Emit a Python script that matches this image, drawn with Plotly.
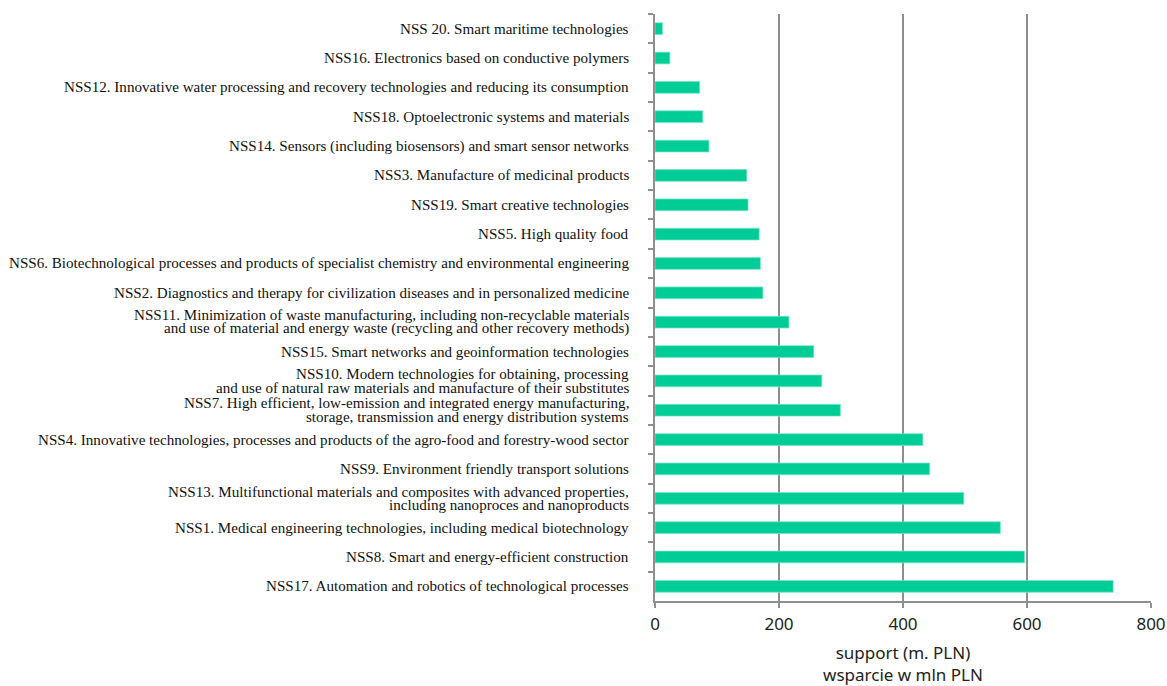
import plotly.graph_objects as go

categories = [
    "NSS 20. Smart maritime technologies",
    "NSS16. Electronics based on conductive polymers",
    "NSS12. Innovative water processing and recovery technologies and reducing its consumption",
    "NSS18. Optoelectronic systems and materials",
    "NSS14. Sensors (including biosensors) and smart sensor networks",
    "NSS3. Manufacture of medicinal products",
    "NSS19. Smart creative technologies",
    "NSS5. High quality food",
    "NSS6. Biotechnological processes and products of specialist chemistry and environmental engineering",
    "NSS2. Diagnostics and therapy for civilization diseases and in personalized medicine",
    "NSS11. Minimization of waste manufacturing, including non-recyclable materials <br>and use of material and energy waste (recycling and other recovery methods)",
    "NSS15. Smart networks and geoinformation technologies",
    "NSS10. Modern technologies for obtaining, processing <br>and use of natural raw materials and manufacture of their substitutes",
    "NSS7. High efficient, low-emission and integrated energy manufacturing,<br>storage, transmission and energy distribution systems",
    "NSS4. Innovative technologies, processes and products of the agro-food and forestry-wood sector",
    "NSS9. Environment friendly transport solutions",
    "NSS13. Multifunctional materials and composites with advanced properties,<br>including nanoproces and nanoproducts",
    "NSS1. Medical engineering technologies, including medical biotechnology",
    "NSS8. Smart and energy-efficient construction",
    "NSS17. Automation and robotics of technological processes",
]

support = [12, 24, 72, 77, 87, 148, 150, 168, 170, 174,
           216, 256, 269, 299, 432, 443, 498, 557, 596, 739]

x_ticks = [0, 200, 400, 600, 800]
x_title = "support (m. PLN)<br>wsparcie w mln PLN"

grey = "#8f8f8f"
label_font = dict(family="Liberation Serif", size=15.1, color="#111")
line_step = 13.5

fig = go.Figure(
    go.Bar(
        x=support,
        y=categories,
        orientation="h",
        marker=dict(color="#00CC96", line=dict(color="rgba(120,230,200,0.9)", width=0.8)),
        hoverinfo="x+y",
    )
)

# Category labels as annotations (tighter line spacing for two-line labels)
for cat in categories:
    lines = cat.split("<br>")
    n = len(lines)
    for i, line in enumerate(lines):
        shift = (n - 1) * line_step / 2 - i * line_step
        fig.add_annotation(
            x=0, xref="paper", xanchor="right", xshift=-24,
            y=cat, yref="y", yanchor="middle", yshift=shift,
            text=line.strip(), showarrow=False, font=label_font,
        )

fig.update_layout(
    width=1167,
    height=686,
    margin=dict(l=655, r=16, t=14, b=85, autoexpand=False),
    paper_bgcolor="white",
    plot_bgcolor="white",
    bargap=0.6,
    showlegend=False,
    xaxis=dict(
        range=[0, 800],
        tickvals=x_ticks,
        showgrid=True,
        gridcolor=grey,
        gridwidth=1.5,
        zeroline=False,
        showline=True,
        linecolor=grey,
        linewidth=1.5,
        ticks="outside",
        ticklen=5,
        tickcolor=grey,
        tickwidth=1.5,
        ticklabelstandoff=2,
        automargin=False,
        tickfont=dict(family="Noto Sans", size=17, color="#222"),
        title=dict(text=x_title, font=dict(family="Noto Sans", size=17, color="#222"), standoff=20),
    ),
    yaxis=dict(
        autorange="reversed",
        showgrid=False,
        zeroline=False,
        showline=True,
        linecolor=grey,
        linewidth=1.5,
        ticks="outside",
        tickson="boundaries",
        ticklen=5,
        tickcolor=grey,
        tickwidth=1.5,
        showticklabels=False,
        automargin=False,
    ),
)

fig.write_html("out.html")
